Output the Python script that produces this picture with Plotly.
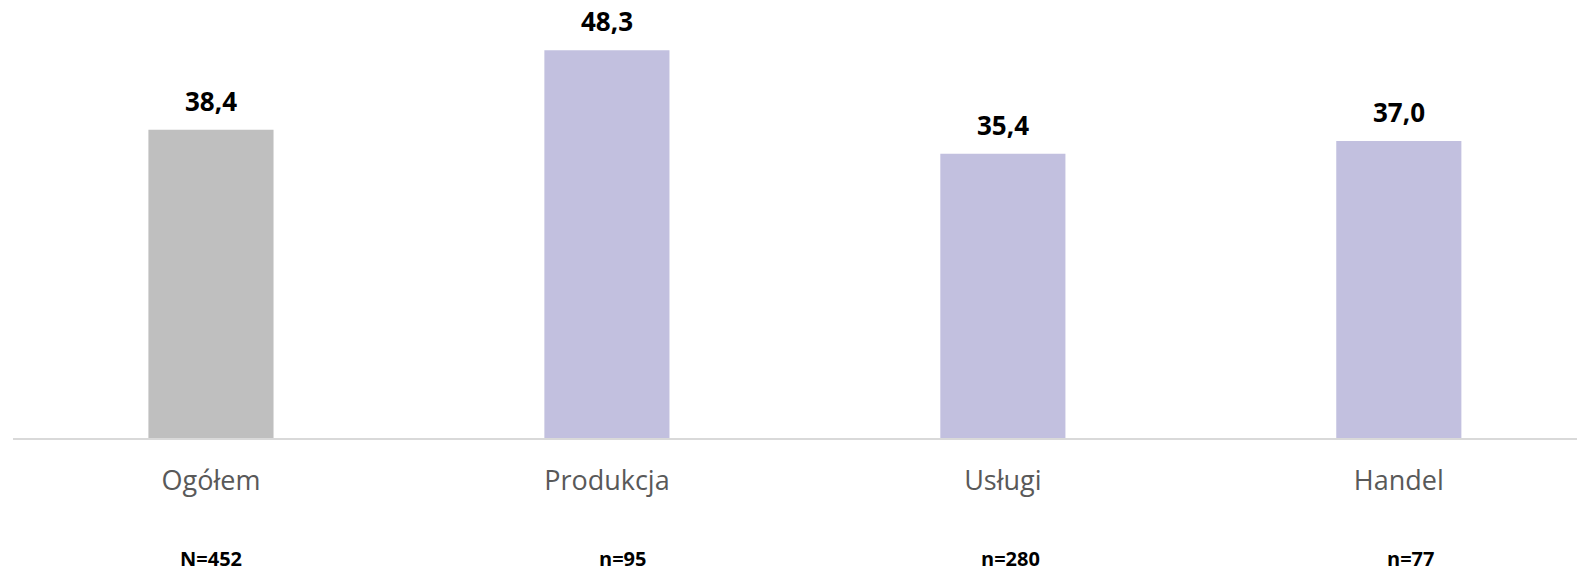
import plotly.graph_objects as go

categories = ["Ogółem", "Produkcja", "Usługi", "Handel"]
values = [38.4, 48.3, 35.4, 37.0]
sample_sizes = ["N=452", "n=95", "n=280", "n=77"]
colors = ["#BFBFBF", "#C2C0DF", "#C2C0DF", "#C2C0DF"]
n_label_xshift = [0, 16, 8, 12]

fig = go.Figure()
fig.add_trace(go.Bar(
    x=categories, y=values,
    marker=dict(color=colors, line=dict(width=0)),
    cliponaxis=False,
))

for cat, v in zip(categories, values):
    fig.add_annotation(x=cat, y=v, xref="x", yref="y",
                       text="<b>" + f"{v:.1f}".replace(".", ",") + "</b>",
                       showarrow=False, yanchor="middle", yshift=29,
                       font=dict(family="Open Sans", size=26, color="#000000"))

for cat, n, dx in zip(categories, sample_sizes, n_label_xshift):
    fig.add_annotation(x=cat, y=-0.274, xref="x", yref="paper", text=f"<b>{n}</b>",
                       showarrow=False, yanchor="middle", xshift=dx, borderpad=0,
                       font=dict(family="Open Sans", size=20, color="#000000"))

fig.update_layout(
    width=1577, height=572,
    margin=dict(l=13, r=0, t=0, b=134),
    plot_bgcolor="white", paper_bgcolor="white",
    bargap=0.684,
    showlegend=False,
    xaxis=dict(range=[-0.5, 3.45], showline=True, linecolor="#D9D9D9", linewidth=2,
               ticks="outside", ticklen=18, tickcolor="rgba(0,0,0,0)",
               tickfont=dict(family="Open Sans", size=27, color="#595959")),
    yaxis=dict(range=[0, 54.55], visible=False, showgrid=False, zeroline=False),
)
fig.write_html("out.html", config={"displayModeBar": False},
               post_script="document.body.style.margin='0';")
